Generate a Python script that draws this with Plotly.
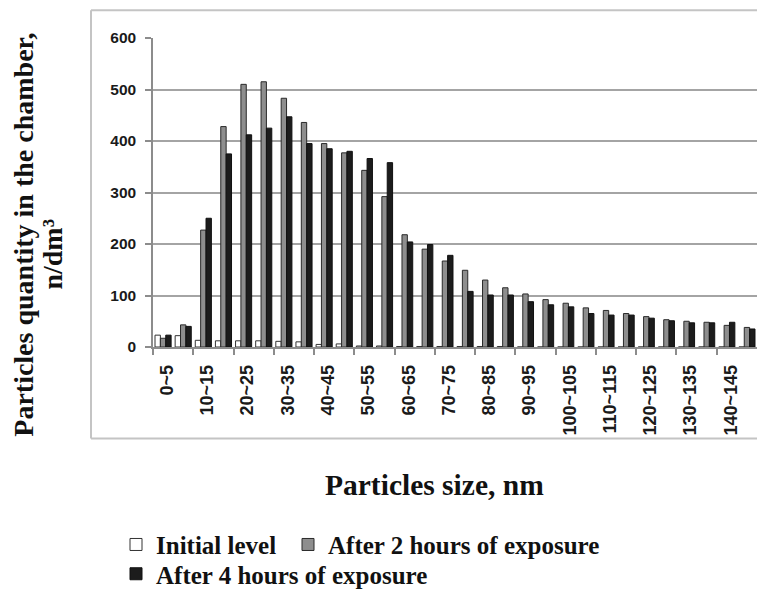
import plotly.graph_objects as go

# Size bins (nm) and particle counts (n/dm^3) for each measurement stage
categories = [
    "0~5", "5~10", "10~15", "15~20", "20~25", "25~30", "30~35", "35~40",
    "40~45", "45~50", "50~55", "55~60", "60~65", "65~70", "70~75", "75~80",
    "80~85", "85~90", "90~95", "95~100", "100~105", "105~110", "110~115",
    "115~120", "120~125", "125~130", "130~135", "135~140", "140~145", "145~150",
]
initial_level = [23, 22, 13, 12, 12, 12, 11, 10, 5, 6, 2, 2, 1, 1, 1, 1, 1, 1,
                 0, 0, 0, 0, 0, 0, 0, 0, 0, 0, 0, 0]
after_2h = [17, 43, 227, 428, 510, 515, 483, 436, 395, 377, 343, 292, 218, 190,
            167, 149, 130, 115, 103, 92, 85, 76, 71, 65, 59, 53, 50, 48, 42, 38]
after_4h = [23, 40, 250, 375, 412, 425, 447, 395, 385, 380, 366, 358, 204, 199,
            178, 108, 101, 101, 88, 82, 78, 65, 62, 62, 56, 51, 47, 47, 48, 35]

series_names = ["Initial level", "After 2 hours of exposure", "After 4 hours of exposure"]
tick_labels = categories[::2]

W, H = 757, 597
ML, MR, MT, MB = 153, 0, 38, 248
PW, PH = W - ML - MR, H - MT - MB


def px_x(p):
    return (p - ML) / PW


def px_y(p):
    return (H - MB - p) / PH


idx = list(range(len(categories)))
serif = "Liberation Serif, Times New Roman, serif"
sans = "Liberation Sans, Arial, sans-serif"
legend_font = dict(family=serif, size=25, color="#111111", weight="bold")

fig = go.Figure()
fig.add_trace(go.Bar(x=idx, y=initial_level, name=series_names[0],
                     marker=dict(color="#ffffff", line=dict(color="#333333", width=1)),
                     legend="legend"))
fig.add_trace(go.Bar(x=idx, y=after_2h, name=series_names[1],
                     marker=dict(color="#8e8e8e", line=dict(color="#2a2a2a", width=1)),
                     legend="legend2"))
fig.add_trace(go.Bar(x=idx, y=after_4h, name=series_names[2],
                     marker=dict(color="#1c1c1c", line=dict(color="#111111", width=1)),
                     legend="legend3"))

fig.update_layout(
    width=W, height=H,
    margin=dict(l=ML, r=MR, t=MT, b=MB, pad=0),
    paper_bgcolor="white", plot_bgcolor="white",
    barmode="group", bargap=0.2, bargroupgap=0.0,
    xaxis=dict(
        range=[-0.5, len(categories) - 0.5],
        tickmode="array", tickvals=idx[::2], ticktext=tick_labels,
        tickangle=-90, ticks="", showgrid=False, zeroline=False,
        showline=True, linecolor="#8c8c8c", linewidth=1.5,
        ticklabelstandoff=9, ticklabelshift=4,
        tickfont=dict(family=sans, size=18, color="#1a1a1a", weight="bold"),
        minor=dict(tickmode="array",
                   tickvals=[i - 0.5 for i in idx[::2]],
                   ticks="outside", ticklen=6, tickcolor="#8c8c8c",
                   tickwidth=1.5, showgrid=False),
    ),
    yaxis=dict(
        range=[0, 600], dtick=100, tick0=0,
        showgrid=True, gridcolor="#a4a4a4", gridwidth=1.6,
        zeroline=False, showline=True, linecolor="#8c8c8c", linewidth=1.5,
        ticks="outside", ticklen=6, tickcolor="#8c8c8c", tickwidth=1.5,
        ticklabelstandoff=6,
        tickfont=dict(family=sans, size=15.5, color="#1a1a1a", weight="bold"),
    ),
    legend=dict(orientation="h", x=px_x(116), y=px_y(548),
                xanchor="left", yanchor="middle", font=legend_font,
                bgcolor="rgba(0,0,0,0)"),
    legend2=dict(orientation="h", x=px_x(288), y=px_y(548),
                 xanchor="left", yanchor="middle", font=legend_font,
                 bgcolor="rgba(0,0,0,0)"),
    legend3=dict(orientation="h", x=px_x(116), y=px_y(578),
                 xanchor="left", yanchor="middle", font=legend_font,
                 bgcolor="rgba(0,0,0,0)"),
    showlegend=True,
)

# Outer chart frame (left, top and bottom edges; the right edge runs off the page)
frame = dict(color="#c4c4c4", width=2)
fig.add_shape(type="line", xref="paper", yref="paper",
              x0=px_x(91), x1=px_x(91), y0=px_y(441), y1=px_y(10), line=frame)
fig.add_shape(type="line", xref="paper", yref="paper",
              x0=px_x(91), x1=px_x(W + 5), y0=px_y(10), y1=px_y(10), line=frame)
fig.add_shape(type="line", xref="paper", yref="paper",
              x0=px_x(91), x1=px_x(W + 5), y0=px_y(441), y1=px_y(441), line=frame)

# Axis titles
fig.add_annotation(text="Particles size, nm", xref="paper", yref="paper",
                   x=px_x(434), y=px_y(488), xanchor="center", yanchor="middle",
                   showarrow=False,
                   font=dict(family=serif, size=29.5, color="#111111", weight="bold"))
fig.add_annotation(text="Particles quantity in the chamber,", xref="paper", yref="paper",
                   x=px_x(24), y=px_y(236), xanchor="center", yanchor="middle",
                   textangle=-90, showarrow=False,
                   font=dict(family=serif, size=28, color="#111111", weight="bold"))
fig.add_annotation(text="n/dm³", xref="paper", yref="paper",
                   x=px_x(53), y=px_y(255), xanchor="center", yanchor="middle",
                   textangle=-90, showarrow=False,
                   font=dict(family=serif, size=28, color="#111111", weight="bold"))

fig.write_html("out.html")
